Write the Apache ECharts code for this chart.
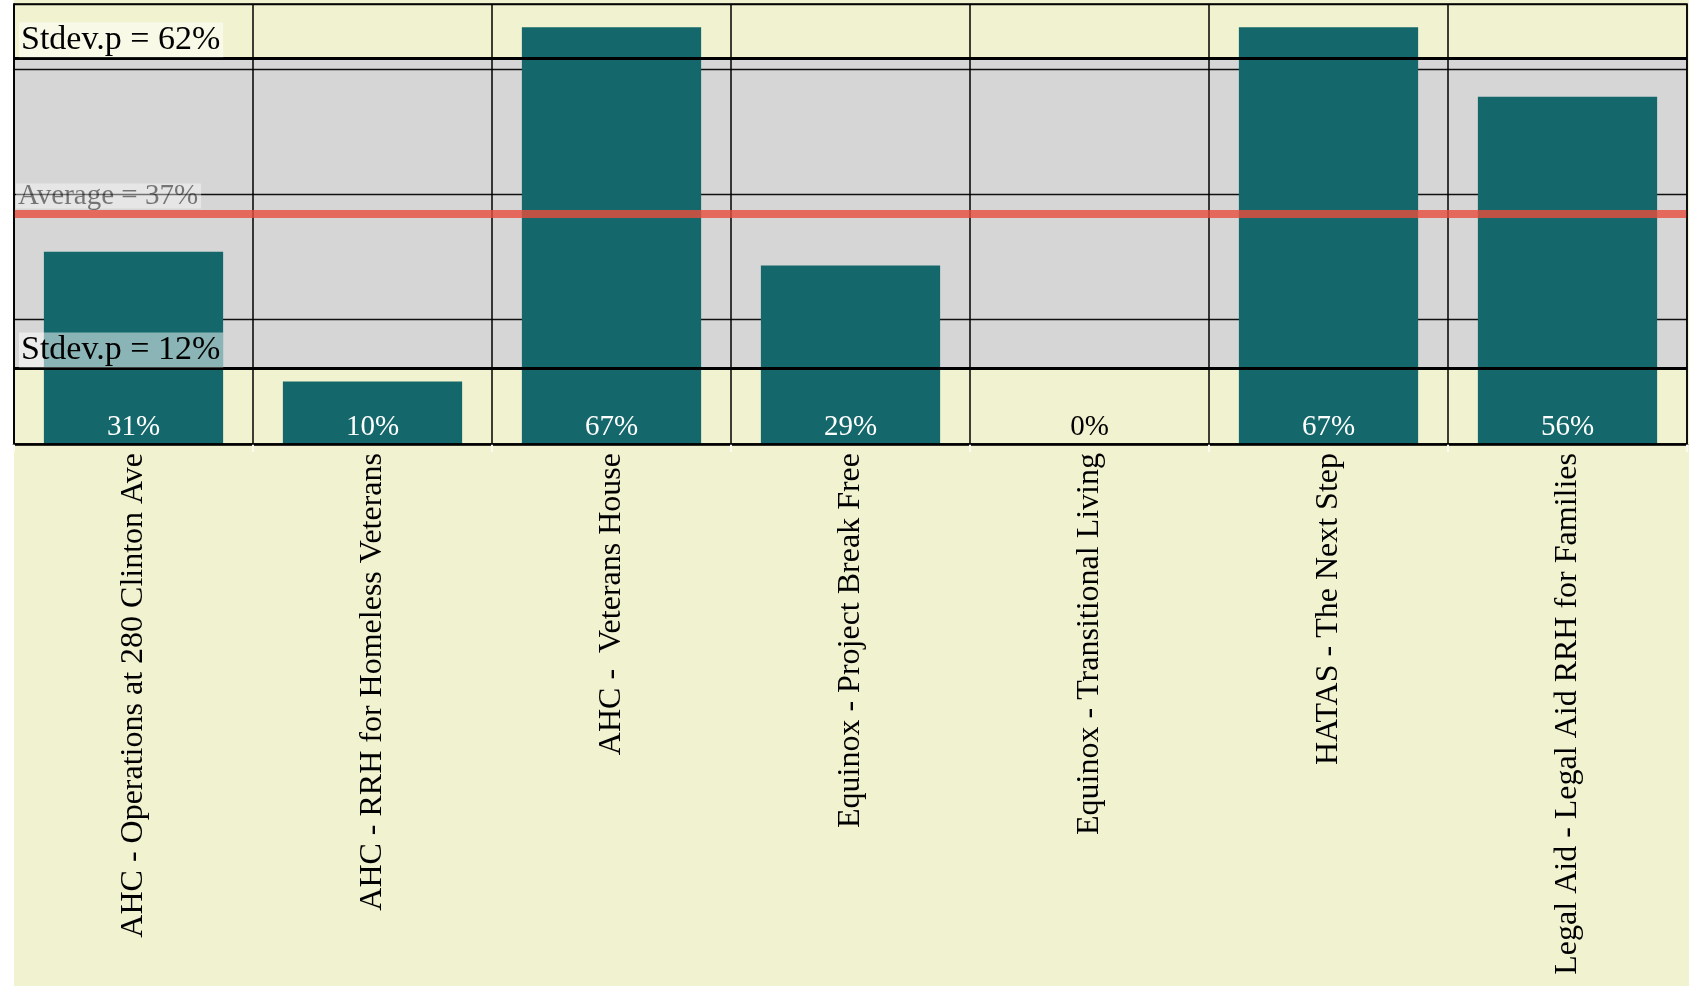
<!DOCTYPE html>
<html>
<head>
<meta charset="utf-8">
<script src="https://cdn.jsdelivr.net/npm/echarts@6/dist/echarts.min.js"></script>
<style>
html,body{margin:0;padding:0;background:#ffffff;width:1689px;height:986px;overflow:hidden}
#bg{position:absolute;left:14px;top:0;width:1675px;height:986px;background:#f1f2cf}
#main{position:absolute;left:0;top:0;width:1689px;height:986px}
</style>
</head>
<body>
<div id="bg"></div>
<div id="main"></div>
<script>
// ---- data ----
const categories = [
  'AHC - Operations at 280 Clinton Ave',
  'AHC - RRH for Homeless Veterans',
  'AHC -  Veterans House',
  'Equinox - Project Break Free',
  'Equinox - Transitional Living',
  'HATAS - The Next Step',
  'Legal Aid - Legal Aid RRH for Families'
];
const values = [30.77, 10, 66.67, 28.57, 0, 66.67, 55.56];
const yMin = 0;
const yMax = 70.4;
const yInterval = 20;

// ---- derived statistics ----
const mean = values.reduce((a, b) => a + b, 0) / values.length;
const sdP = Math.sqrt(values.reduce((a, v) => a + (v - mean) * (v - mean), 0) / values.length);
const upper = mean + sdP;
const lower = mean - sdP;
const pct = v => Math.round(v) + '%';

const serif = 'Liberation Serif';

const barData = values.map(v => ({
  value: v,
  label: { color: v === 0 ? '#000000' : '#ffffff' }
}));

const chart = echarts.init(document.getElementById('main'), null, { renderer: 'canvas' });

chart.setOption({
  animation: false,
  backgroundColor: 'transparent',
  grid: {
    left: 14, right: 2, top: 4, bottom: 542,
    show: true, borderColor: '#000', borderWidth: 1.5,
    backgroundColor: 'transparent', z: 6
  },
  xAxis: {
    type: 'category',
    data: categories,
    z: 3,
    axisLine: { show: true, lineStyle: { color: '#000', width: 2.5 } },
    axisTick: { show: true, alignWithLabel: false, length: 8, lineStyle: { color: '#fbfbf4', width: 2 } },
    splitLine: { show: true, lineStyle: { color: '#000', width: 1.5 } },
    axisLabel: {
      interval: 0, rotate: 90, margin: 9,
      fontFamily: serif, fontSize: 32, color: '#000'
    }
  },
  yAxis: {
    type: 'value',
    min: yMin, max: yMax, interval: yInterval,
    z: 1.5,
    axisLine: { show: true, lineStyle: { color: '#000', width: 1.5 } },
    axisTick: { show: false },
    axisLabel: { show: false },
    splitLine: { show: true, lineStyle: { color: '#111', width: 1.3 } }
  },
  series: [{
    type: 'bar',
    data: barData,
    z: 2,
    barCategoryGap: '25%',
    itemStyle: { color: '#14686b' },
    label: {
      show: true, position: 'insideBottom', distance: 2,
      fontFamily: serif, fontSize: 29,
      formatter: p => pct(p.value)
    },
    markArea: {
      silent: true,
      z: 1,
      itemStyle: { color: '#d6d6d6' },
      data: [[{ yAxis: lower }, { yAxis: upper }]]
    },
    markLine: {
      silent: true,
      symbol: ['none', 'none'],
      z: 5,
      data: [
        {
          yAxis: upper,
          lineStyle: { color: '#000', width: 3, type: 'solid' },
          label: {
            show: true, position: 'insideStartTop', distance: [5, 1],
            formatter: 'Stdev.p = ' + pct(upper),
            fontFamily: serif, fontSize: 34, lineHeight: 34, color: '#000',
            backgroundColor: 'rgba(255,255,255,0.5)', padding: [1, 3, 0, 2]
          }
        },
        {
          yAxis: mean,
          lineStyle: { color: '#E74C3C', width: 8, type: 'solid', opacity: 0.8 },
          label: {
            show: true, position: 'insideStartTop', distance: [2, 5],
            formatter: 'Average = ' + pct(mean),
            fontFamily: serif, fontSize: 29, lineHeight: 25, color: 'rgba(0,0,0,0.62)',
            backgroundColor: 'rgba(255,255,255,0.5)', padding: [0, 3, 0, 2]
          }
        },
        {
          yAxis: lower,
          lineStyle: { color: '#000', width: 3, type: 'solid' },
          label: {
            show: true, position: 'insideStartTop', distance: [5, 1],
            formatter: 'Stdev.p = ' + pct(lower),
            fontFamily: serif, fontSize: 34, lineHeight: 34, color: '#000',
            backgroundColor: 'rgba(255,255,255,0.5)', padding: [1, 3, 0, 2]
          }
        }
      ]
    }
  }]
});
</script>
</body>
</html>
